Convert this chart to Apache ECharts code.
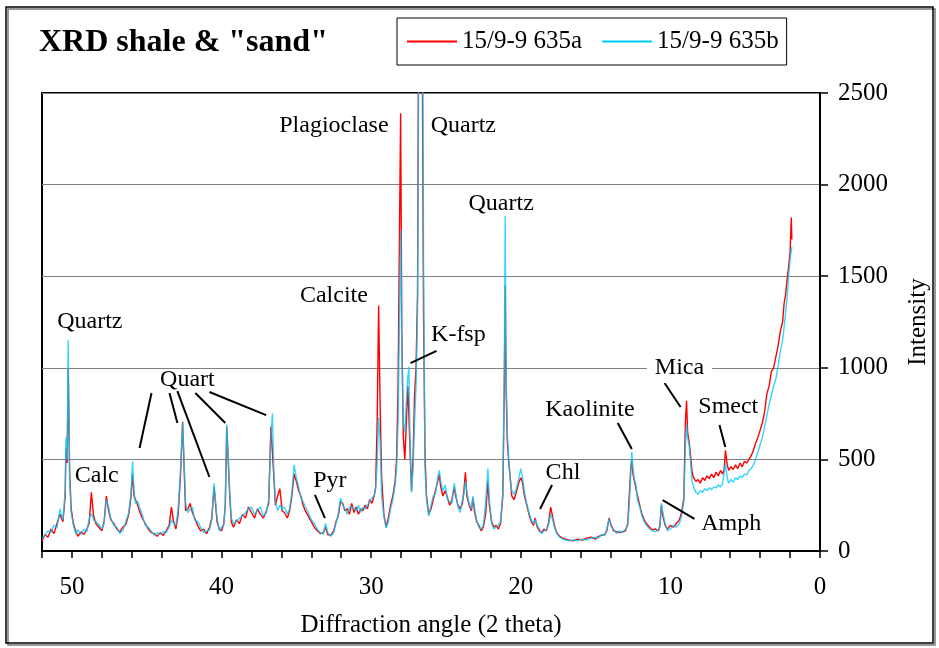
<!DOCTYPE html>
<html lang="en">
<head>
    <meta charset="UTF-8"/>
    <script src="https://cdn.jsdelivr.net/npm/echarts@6/dist/echarts.min.js"></script>
    <title>XRD shale & sand</title>
    <style>
        html, body { margin: 0; padding: 0; background: #fff; }
        #chart { width: 939px; height: 648px; }
    </style>
</head>
<body>
<div id="chart"></div>
<script type="text/javascript">
    // diffraction angle (2 theta), shared by both scans
    var angles = [
        52.0, 51.8, 51.6, 51.4, 51.2, 51.0, 50.8, 50.6,
        50.45, 50.4, 50.32, 50.25, 50.15, 50.05, 49.9, 49.75,
        49.6, 49.4, 49.2, 49.0, 48.85, 48.7, 48.55, 48.4, 48.2, 48.0, 47.85, 47.7, 47.55, 47.4, 47.2, 47.0,
        46.8, 46.6, 46.4, 46.2, 46.05, 45.95, 45.85, 45.75, 45.6, 45.45, 45.3, 45.1, 44.9, 44.7, 44.5, 44.3, 44.1,
        43.9, 43.7, 43.5, 43.35, 43.2, 43.05, 42.9, 42.75, 42.6, 42.5, 42.4, 42.25, 42.1, 41.95, 41.8, 41.6, 41.4, 41.2, 41.0,
        40.8, 40.65, 40.5, 40.4, 40.3, 40.15, 40.0, 39.85, 39.75, 39.65, 39.55, 39.45, 39.35, 39.2, 39.0,
        38.8, 38.6, 38.4, 38.2, 38.0, 37.8, 37.6, 37.4, 37.2, 37.0, 36.85, 36.7, 36.6, 36.5, 36.4, 36.25, 36.1, 35.95,
        35.8, 35.6, 35.45, 35.3, 35.15, 35.0, 34.85, 34.7, 34.55, 34.4, 34.2, 34.0, 33.8, 33.6, 33.4, 33.2, 33.05, 32.9, 32.7, 32.5,
        32.35, 32.2, 32.05, 31.9, 31.75, 31.6, 31.45, 31.3, 31.15, 31.0, 30.85, 30.7, 30.55, 30.4, 30.25, 30.1, 29.95, 29.8, 29.7,
        29.6, 29.5, 29.4, 29.3, 29.15, 29.0, 28.85, 28.7, 28.55, 28.4, 28.3, 28.2, 28.1, 28.03, 27.95, 27.85, 27.75, 27.65, 27.55, 27.48, 27.4, 27.3, 27.2, 27.1, 27.0, 26.9, 26.8, 26.7, 26.6, 26.5, 26.4, 26.3,
        26.15, 26.0, 25.85, 25.7, 25.55, 25.45, 25.35, 25.2, 25.05, 24.9, 24.75, 24.6, 24.45, 24.35, 24.2, 24.05, 23.9, 23.8, 23.7, 23.6, 23.45, 23.3, 23.2, 23.1, 22.95, 22.8, 22.65, 22.5, 22.35, 22.2, 22.1, 21.95, 21.8, 21.65, 21.5, 21.35,
        21.2, 21.1, 21.04, 20.98, 20.9, 20.8, 20.7, 20.6, 20.45, 20.3, 20.15, 20.0, 19.9, 19.75, 19.6, 19.45, 19.3, 19.15, 19.05, 18.9, 18.75, 18.6, 18.45, 18.3, 18.15, 18.0, 17.9, 17.75, 17.6, 17.4, 17.2, 17.0,
        16.8, 16.5, 16.2, 15.9, 15.6, 15.3, 15.0, 14.8, 14.6, 14.4, 14.25, 14.1, 13.95, 13.8, 13.6, 13.4, 13.2, 13.0, 12.85, 12.75, 12.65, 12.58, 12.5, 12.4, 12.3, 12.2, 12.05, 11.9, 11.75, 11.6, 11.4, 11.2, 11.0,
        10.8, 10.7, 10.6, 10.5, 10.35, 10.2, 10.0, 9.8, 9.6, 9.4, 9.25, 9.1, 9.0, 8.92, 8.85, 8.75, 8.65, 8.55, 8.45, 8.3, 8.15, 8.0,
        7.85, 7.7, 7.55, 7.4, 7.25, 7.1, 6.95, 6.8, 6.65, 6.5, 6.4, 6.32, 6.2, 6.1, 5.95, 5.8, 5.65, 5.5, 5.35, 5.2, 5.05, 4.9, 4.75,
        4.6, 4.45, 4.3, 4.15, 4.0, 3.85, 3.7, 3.55, 3.4, 3.25, 3.1, 2.95, 2.8, 2.65, 2.5, 2.4, 2.3, 2.2, 2.1, 2.0, 1.92, 1.88
    ];
    // 15/9-9 635a intensity
    var scanA = [
        55, 90, 75, 120, 95, 150, 200, 160,
        300, 560, 480, 1000, 420, 230, 150, 110,
        80, 105, 90, 120, 150, 320, 190, 150, 130, 110, 160, 300, 220, 170, 150, 120,
        105, 130, 145, 200, 300, 420, 300, 280, 250, 210, 180, 150, 120, 100, 95, 80, 100,
        85, 110, 140, 240, 160, 120, 200, 400, 705, 450, 220, 230, 260, 210, 180, 140, 110, 120, 95,
        130, 180, 350, 340, 160, 120, 110, 150, 250, 680, 670, 300, 160, 130, 170,
        150, 200, 180, 240, 210, 180, 230, 200, 180, 220, 260, 680, 690, 400, 250, 300, 340, 220,
        210, 180, 220, 300, 420, 380, 330, 300, 250, 220, 190, 160, 130, 110, 95, 100, 130, 90, 85, 110,
        160, 190, 270, 260, 220, 230, 200, 260, 210, 240, 200, 230, 220, 250, 230, 280, 260, 300, 350,
        700, 1340, 800, 400, 200, 130, 180, 250, 300, 380, 500, 900, 1800, 2390, 1200, 620, 500, 700, 900, 750, 550, 330, 500, 850, 1000, 1400, 3500, 6000, 3000, 1300, 520, 300,
        200, 230, 280, 330, 380, 420, 350, 300, 330, 290, 250, 280, 350, 300, 250, 230, 260, 330, 430, 300, 250, 220, 290, 220, 160, 140, 110, 130, 200, 380, 250, 160, 130, 140, 120, 150,
        300, 900, 1450, 900, 600, 480, 400, 300, 280, 320, 370, 400, 380, 300, 250, 200, 160, 140, 180, 130, 110, 100, 120, 110, 150, 240, 200, 140, 100, 80, 70, 65,
        60, 55, 65, 60, 70, 75, 65, 80, 85, 90, 110, 180, 140, 110, 105, 100, 105, 110, 150, 300, 450, 500, 420, 380, 340, 300, 250, 200, 170, 150, 130, 115, 120,
        110, 140, 250, 190, 140, 120, 140, 130, 150, 170, 210, 290, 700, 820, 650, 600, 520, 430, 400, 380, 390, 370,
        400, 385, 410, 395, 420, 400, 430, 410, 440, 420, 450, 550, 470, 440, 460, 445, 470, 450, 480, 460, 490, 480, 500,
        520, 550, 590, 620, 660, 700, 760, 860, 900, 980, 1000, 1060, 1120, 1200, 1250, 1350, 1400, 1480, 1550, 1630, 1820, 1700
    ];
    // 15/9-9 635b intensity
    var scanB = [
        70, 85, 110, 100, 140, 125, 230, 170,
        330, 620, 500, 1150, 380, 210, 140, 95,
        115, 90, 120, 105, 175, 205, 170, 160, 145, 120, 150, 280, 240, 180, 140, 130,
        95, 110, 160, 210, 320, 490, 330, 260, 270, 230, 200, 140, 130, 110, 85, 100, 90,
        105, 100, 130, 170, 150, 140, 230, 430, 700, 480, 260, 210, 230, 240, 170, 160, 130, 100, 110,
        115, 170, 370, 360, 180, 110, 130, 140, 260, 690, 680, 320, 180, 150, 160,
        180, 190, 210, 230, 240, 200, 220, 240, 190, 210, 280, 620, 750, 420, 270, 220, 250, 230,
        240, 200, 230, 320, 470, 400, 350, 290, 270, 240, 210, 170, 150, 120, 100, 90, 150, 100, 80, 100,
        150, 200, 290, 250, 230, 200, 240, 240, 230, 220, 250, 210, 240, 230, 250, 270, 290, 300, 340,
        480, 730, 600, 300, 190, 125, 160, 230, 280, 360, 450, 700, 1300, 1750, 1100, 700, 650, 820, 950, 1005, 600, 320, 450, 700, 900, 1300, 3000, 6000, 4000, 1600, 450, 280,
        190, 250, 300, 310, 400, 440, 380, 330, 360, 280, 270, 260, 370, 320, 240, 210, 280, 310, 380, 320, 260, 230, 300, 240, 170, 130, 120, 140, 260, 450, 280, 150, 120, 130, 140, 160,
        320, 1000, 1830, 950, 650, 500, 380, 330, 310, 340, 390, 450, 410, 320, 260, 210, 170, 150, 170, 140, 120, 95, 110, 115, 140, 200, 180, 130, 95, 75, 65, 60,
        55, 60, 55, 65, 60, 70, 75, 70, 90, 85, 120, 175, 130, 120, 95, 110, 100, 120, 140, 250, 420, 540, 450, 390, 360, 280, 240, 190, 160, 140, 120, 110, 105,
        115, 130, 260, 210, 150, 110, 120, 140, 130, 150, 190, 270, 560, 690, 620, 580, 480, 380, 350, 320, 310, 330,
        320, 340, 330, 345, 335, 350, 345, 360, 350, 370, 380, 480, 400, 370, 390, 375, 400, 390, 410, 400, 420, 415, 440,
        450, 470, 500, 540, 580, 620, 680, 740, 800, 850, 900, 940, 1010, 1090, 1150, 1220, 1300, 1380, 1500, 1590, 1640, 1660
    ];

    // mineral labels (angle, intensity of the text centre)
    var labelText = ['Quartz', 'Calc', 'Quart', 'Pyr', 'Calcite', 'Plagioclase', 'Quartz', 'K-fsp', 'Quartz', 'Kaolinite', 'Chl', 'Mica', 'Smect', 'Amph'];
    var labelAngle = [48.8, 48.34, 42.28, 32.76, 32.49, 32.49, 23.84, 24.17, 21.31, 15.38, 17.18, 9.39, 6.13, 5.93];
    var labelCount = [1250, 409, 933, 382, 1392, 2320, 2320, 1179, 1894, 770, 426, 999, 786, 147];
    // leader lines from label to peak
    var leaderFrom = [[44.68, 862], [43.48, 862], [42.95, 873], [41.75, 862], [40.81, 868], [33.76, 306], [25.63, 1092], [13.52, 699], [17.91, 360], [10.39, 917], [6.72, 688], [10.52, 278]];
    var leaderTo = [[45.48, 562], [42.95, 699], [40.81, 404], [39.75, 699], [37.02, 742], [33.09, 180], [27.37, 1026], [12.58, 557], [18.71, 229], [9.32, 786], [6.33, 568], [8.39, 175]];

    var serif = "'Liberation Serif', 'Times New Roman', serif";

    var dataA = [], dataB = [];
    for (var i = 0; i < angles.length; i++) {
        dataA.push([angles[i], scanA[i]]);
        dataB.push([angles[i], scanB[i]]);
    }
    var leaderData = [];
    for (var k = 0; k < leaderFrom.length; k++) {
        leaderData.push([{coord: leaderFrom[k]}, {coord: leaderTo[k]}]);
    }

    var myChart = echarts.init(document.getElementById('chart'));
    var option = {
        animation: false,
        backgroundColor: '#fff',
        title: {
            text: 'XRD shale & "sand"',
            left: 34,
            top: 22,
            textStyle: {fontFamily: serif, fontWeight: 'bold', fontSize: 32, color: '#000'}
        },
        legend: {
            data: ['15/9-9 635a', '15/9-9 635b'],
            left: 397,
            top: 18,
            padding: [10, 8, 10, 10],
            itemGap: 20,
            itemWidth: 50,
            itemHeight: 2,
            icon: 'rect',
            borderColor: '#000',
            borderWidth: 1,
            textStyle: {fontFamily: serif, fontSize: 25, color: '#000', lineHeight: 27}
        },
        grid: {
            left: 42,
            right: 116,
            top: 93,
            bottom: 97,
            show: true,
            borderColor: '#000',
            borderWidth: 2
        },
        xAxis: {
            type: 'value',
            min: 0,
            max: 52,
            interval: 2,
            inverse: true,
            name: 'Diffraction angle (2 theta)',
            nameLocation: 'middle',
            nameGap: 62,
            nameTextStyle: {fontFamily: serif, fontSize: 25, color: '#000'},
            axisLine: {lineStyle: {color: '#000', width: 2}},
            axisTick: {interval: 0, length: 7, lineStyle: {color: '#000', width: 1.5}},
            axisLabel: {
                interval: 0,
                margin: 24,
                fontFamily: serif,
                fontSize: 25,
                color: '#000',
                formatter: function (v) { return v % 10 === 0 ? String(v) : ''; }
            },
            splitLine: {show: false}
        },
        yAxis: {
            type: 'value',
            position: 'right',
            min: 0,
            max: 2500,
            interval: 500,
            name: 'Intensity',
            nameLocation: 'middle',
            nameRotate: 90,
            nameGap: 86,
            nameTextStyle: {fontFamily: serif, fontSize: 25, color: '#000'},
            axisLine: {show: true, lineStyle: {color: '#000', width: 2}},
            axisTick: {show: true, length: 8, lineStyle: {color: '#000', width: 1.5}},
            axisLabel: {
                margin: 18,
                fontFamily: serif,
                fontSize: 25,
                color: '#000',
                formatter: function (v) { return String(v); }
            },
            splitLine: {lineStyle: {color: '#808080', width: 1}}
        },
        series: [
            {
                name: '15/9-9 635a',
                type: 'line',
                data: dataA,
                symbol: 'none',
                clip: true,
                color: '#ff0000',
                lineStyle: {color: '#ff0000', width: 1.4}
            },
            {
                name: '15/9-9 635b',
                type: 'line',
                data: dataB,
                symbol: 'none',
                clip: true,
                color: '#00ccff',
                lineStyle: {color: '#00ccff', width: 1.4, opacity: 0.8}
            },
            {
                name: 'leaders',
                type: 'scatter',
                data: [],
                silent: true,
                markLine: {
                    silent: true,
                    symbol: 'none',
                    label: {show: false},
                    lineStyle: {color: '#000', width: 2, type: 'solid'},
                    data: leaderData
                }
            }
        ]
    };
    myChart.setOption(option);

    // mineral names placed at data coordinates through the chart's own scales
    var graphics = [{
        type: 'rect',
        shape: {x: 6, y: 7, width: 927, height: 636},
        style: {fill: 'none', stroke: '#000', lineWidth: 1.5, shadowColor: '#777', shadowOffsetX: 2, shadowOffsetY: 2},
        silent: true
    }];
    for (var j = 0; j < labelText.length; j++) {
        var p = myChart.convertToPixel({xAxisIndex: 0, yAxisIndex: 0}, [labelAngle[j], labelCount[j]]);
        var st = {
            text: labelText[j],
            fill: '#000',
            font: '24px ' + serif,
            align: 'center',
            verticalAlign: 'middle'
        };
        if (labelText[j] === 'Mica') {
            st.backgroundColor = '#fff';
            st.padding = [3, 8];
        }
        graphics.push({type: 'text', x: p[0], y: p[1], z: 100, silent: true, style: st});
    }
    myChart.setOption({graphic: graphics});
</script>
</body>
</html>
